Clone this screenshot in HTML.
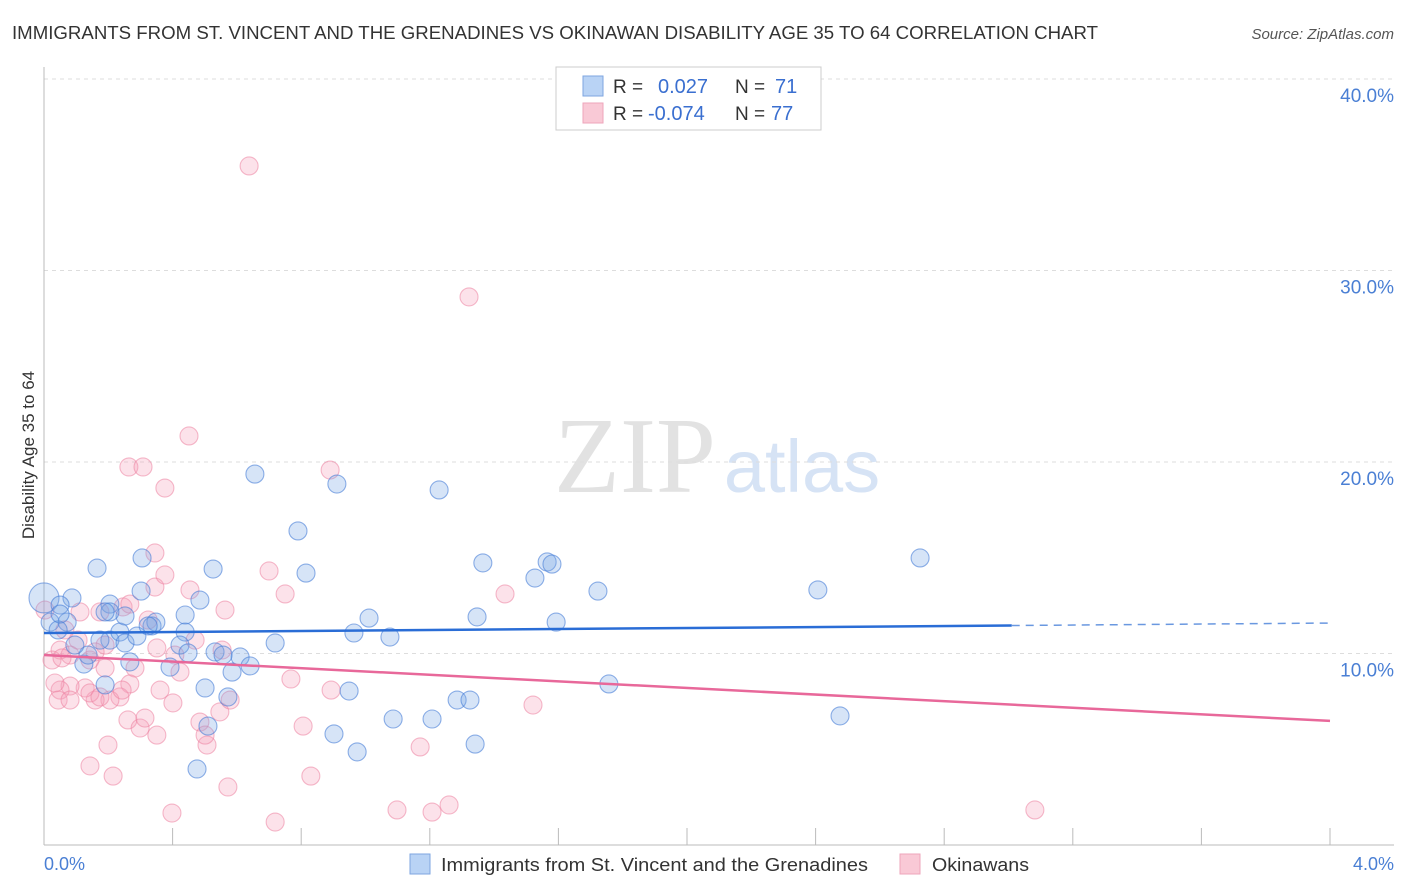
<!DOCTYPE html>
<html><head><meta charset="utf-8"><style>
body{margin:0;background:#fff;font-family:"Liberation Sans",sans-serif;}
#wrap{position:relative;width:1406px;height:892px;overflow:hidden;}
</style></head><body>
<div id="wrap">
<svg id="svg" width="1406" height="892" xmlns="http://www.w3.org/2000/svg">
<text x="12" y="39" font-size="18" fill="#333" textLength="1086" lengthAdjust="spacingAndGlyphs">IMMIGRANTS FROM ST. VINCENT AND THE GRENADINES VS OKINAWAN DISABILITY AGE 35 TO 64 CORRELATION CHART</text>
<text x="1394" y="39" font-size="15" fill="#555" font-style="italic" text-anchor="end">Source: ZipAtlas.com</text>
<text x="635" y="492" font-size="108" fill="#e2e2e2" font-family="Liberation Serif,serif" text-anchor="middle">ZIP</text>
<text x="802" y="492" font-size="74" fill="#d6e3f5" text-anchor="middle">atlas</text>
<g id="grid"></g><g id="axes"></g><g id="pts"></g><g id="trends"></g>
<text x="34" y="455" font-size="17" fill="#333" text-anchor="middle" transform="rotate(-90 34 455)">Disability Age 35 to 64</text>
<text x="44" y="870" font-size="18" fill="#4a7fd4">0.0%</text>
<text x="1394" y="870" font-size="18" fill="#4a7fd4" text-anchor="end">4.0%</text>
<g>
<rect x="556" y="67" width="265" height="63" fill="#fff" stroke="#ccc"/>
<rect x="583" y="76" width="20" height="20" fill="#b9d3f5" stroke="#7ea6e0"/>
<rect x="583" y="103" width="20" height="20" fill="#f9c9d6" stroke="#eea5bb"/>
<text x="613" y="93" font-size="19" fill="#333">R = </text><text x="658" y="93" font-size="20" fill="#3a6fd0">0.027</text>
<text x="735" y="93" font-size="19" fill="#333">N = </text><text x="775" y="93" font-size="20" fill="#3a6fd0">71</text>
<text x="613" y="120" font-size="19" fill="#333">R = </text><text x="648" y="120" font-size="20" fill="#3a6fd0">-0.074</text>
<text x="735" y="120" font-size="19" fill="#333">N = </text><text x="771" y="120" font-size="20" fill="#3a6fd0">77</text>
</g>
<g>
<rect x="410" y="854" width="20" height="20" fill="#b9d3f5" stroke="#7ea6e0"/>
<text x="441" y="871" font-size="18" fill="#333" textLength="427" lengthAdjust="spacingAndGlyphs">Immigrants from St. Vincent and the Grenadines</text>
<rect x="900" y="854" width="20" height="20" fill="#f9c9d6" stroke="#eea5bb"/>
<text x="932" y="871" font-size="18" fill="#333" textLength="97" lengthAdjust="spacingAndGlyphs">Okinawans</text>
</g>
</svg>
</div>
<script>
const yTicks=[10,20,30,40];
const yTickLabels=["10.0%","20.0%","30.0%","40.0%"];
const blueX=[0.0,0.165,0.305,0.526,0.656,0.79,0.911,1.229,1.365,1.565,1.58,1.527,1.723,2.725,2.407,0.815,0.485,0.302,0.205,0.087,0.05,0.019,0.072,0.205,0.236,0.252,0.289,0.336,0.348,0.439,0.423,0.448,0.532,0.557,0.61,0.641,0.585,0.392,0.267,0.124,0.137,0.19,0.501,0.572,0.949,1.285,1.325,1.086,1.207,0.902,0.974,1.341,0.476,0.51,0.719,0.964,1.011,1.076,1.347,1.593,1.757,2.476,0.252,0.324,0.205,0.044,0.096,0.439,0.05,0.19,0.174];
const blueY=[12.9,14.46,14.99,14.41,19.37,16.4,18.85,18.54,14.73,14.78,14.67,13.94,13.26,14.99,13.32,14.2,12.79,13.26,12.58,12.9,12.53,11.64,11.64,10.7,11.12,10.55,10.91,11.44,11.64,11.12,10.44,10.03,10.08,9.92,9.82,9.35,9.03,9.29,9.56,9.45,9.92,8.36,8.2,7.73,8.04,7.57,7.57,6.58,6.58,5.8,4.86,5.27,3.97,6.21,10.55,11.07,11.85,10.86,11.91,11.64,8.41,6.74,11.96,11.44,12.17,11.23,10.44,12.01,12.06,12.17,10.7];
const pinkX=[0.638,1.322,0.451,0.264,0.308,0.376,0.89,0.345,0.7,0.345,0.454,0.75,1.434,0.563,0.246,0.174,0.267,0.106,0.05,0.081,0.025,0.056,0.143,0.19,0.283,0.351,0.423,0.361,0.267,0.236,0.205,0.159,0.128,0.081,0.05,0.034,0.143,0.174,0.261,0.299,0.351,0.314,0.401,0.485,0.507,0.547,0.199,0.143,0.215,0.398,0.572,0.719,0.83,0.806,0.768,0.554,0.893,1.17,1.098,1.207,1.26,1.521,3.082,0.579,0.407,0.065,0.003,0.112,0.159,0.044,0.081,0.324,0.19,0.243,0.376,0.47,0.501];
const pinkY=[35.46,28.62,21.36,19.74,19.74,18.64,19.58,15.25,14.31,13.47,13.32,13.11,13.11,12.27,12.43,12.17,12.58,10.7,10.18,9.92,9.66,9.77,9.66,10.44,9.24,10.29,9.03,8.09,8.41,7.73,7.57,7.57,8.2,8.3,8.09,8.46,7.94,7.73,6.53,6.11,5.74,6.63,7.42,6.42,5.22,6.95,5.22,4.13,3.6,1.67,3.03,1.2,3.6,6.21,8.67,10.18,8.09,5.12,1.83,1.72,2.09,7.31,1.83,7.57,9.92,11.23,12.27,12.17,10.08,7.57,7.57,11.75,9.24,8.09,14.1,10.7,5.74];
const blueTrend=[11.07,11.59];
const pinkTrend=[9.92,6.48];
const NS="http://www.w3.org/2000/svg";
const X0=44,X1=1330,Y0=845,YPER=19.15;
function sx(v){return X0+(v/4)*(X1-X0);}
function sy(v){return Y0-v*YPER;}
function mk(t,a,p){const e=document.createElementNS(NS,t);for(const k in a)e.setAttribute(k,a[k]);p.appendChild(e);return e;}
const grid=document.getElementById('grid');
yTicks.forEach((t,i)=>{
 const l=mk('line',{x1:44,x2:1394,y1:sy(t),y2:sy(t),stroke:'#ddd','stroke-dasharray':'4,4'},grid);
 
 
 const tx=mk('text',{x:1394,y:sy(t)+23,'font-size':19,fill:'#4a7fd4','text-anchor':'end'},grid);
 tx.textContent=yTickLabels[i];
 
 
});
const ax=document.getElementById('axes');
const ya=mk('line',{x1:44,x2:44,y1:67,y2:845,stroke:'#bbb'},ax);


const xa=mk('line',{x1:44,x2:1394,y1:845,y2:845,stroke:'#bbb'},ax);


for(let i=1;i<=10;i++){const t=mk('line',{x1:sx(i*0.4),x2:sx(i*0.4),y1:828,y2:845,stroke:'#bbb'},ax);
 
 }
const pts=document.getElementById('pts');
pinkX.forEach((x,i)=>{const c=mk('circle',{cx:sx(x),cy:sy(pinkY[i]),r:9,fill:'rgba(244,160,185,0.3)',stroke:'rgba(236,130,160,0.55)','stroke-width':1.1},pts);
 
 });
blueX.forEach((x,i)=>{const c=mk('circle',{cx:sx(x),cy:sy(blueY[i]),r:i==0?15:9,fill:'rgba(120,165,230,0.3)',stroke:'rgba(70,125,215,0.6)','stroke-width':1.1},pts);
 
 });
const tr=document.getElementById('trends');
function ty(a,x){return a[0]+(a[1]-a[0])*x/4;}
const b1=mk('line',{x1:sx(0),y1:sy(ty(blueTrend,0)),x2:sx(3.01),y2:sy(ty(blueTrend,3.01)),stroke:'#2a6dd6','stroke-width':2.5},tr);


const b2=mk('line',{x1:sx(3.01),y1:sy(ty(blueTrend,3.01)),x2:sx(4),y2:sy(ty(blueTrend,4)),stroke:'#6a98e0','stroke-width':1.5,'stroke-dasharray':'8,6'},tr);


const p1=mk('line',{x1:sx(0),y1:sy(pinkTrend[0]),x2:sx(4),y2:sy(pinkTrend[1]),stroke:'#e8689a','stroke-width':2.5},tr);


</script>
</body></html>
